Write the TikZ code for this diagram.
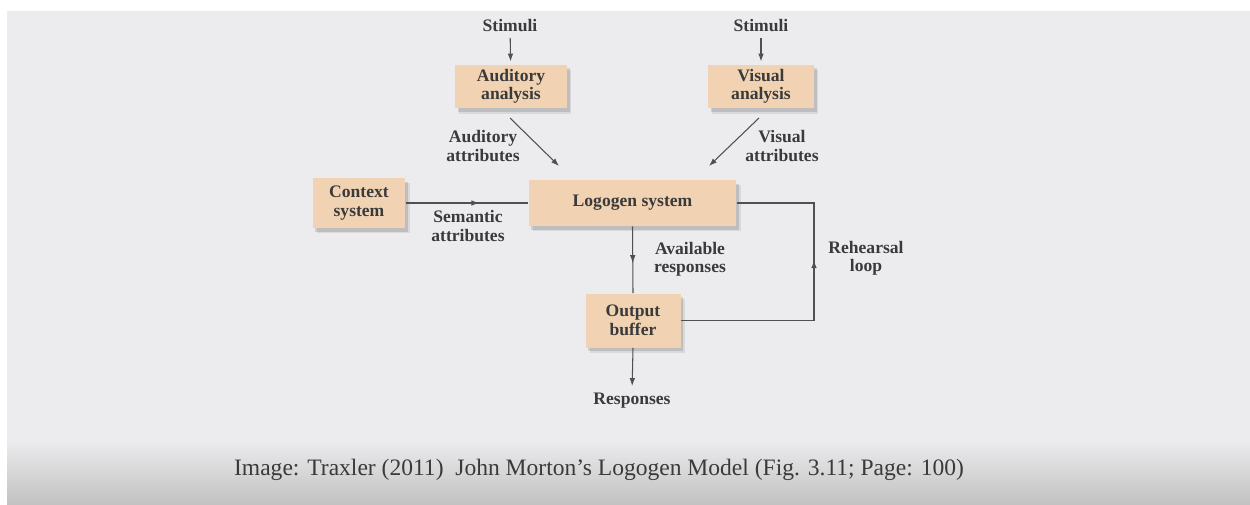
\documentclass[tikz,border=0pt]{standalone}
\usepackage{fontspec}
\setmainfont{Liberation Serif}
\usetikzlibrary{shadows,decorations.markings,arrows.meta}
\definecolor{bg}{HTML}{ECECEE}
\definecolor{boxfill}{HTML}{F1D3B3}
\definecolor{ln}{HTML}{505050}
\definecolor{txt}{HTML}{3A3A3A}
\begin{document}
\begin{tikzpicture}[x=0.02cm,y=-0.02cm,
  box/.style={fill=boxfill, draw=none, align=center, font=\fontsize{10}{10.5}\selectfont\bfseries, text=txt, inner sep=0pt,
    drop shadow={shadow xshift=2.5pt,shadow yshift=-3pt,opacity=0.08,fill=black},
    drop shadow={shadow xshift=1.5pt,shadow yshift=-2pt,opacity=0.12,fill=black}},
  lbl/.style={align=center, font=\fontsize{10}{10.5}\selectfont\bfseries, text=txt, inner sep=0pt},
  conn/.style={color=ln, line width=0.6pt},
  arr/.style={conn, -{Latex[length=4.5pt,width=3.2pt]}},
  midarr/.style={conn, postaction={decorate},
    decoration={markings, mark=at position #1 with {\arrow{Latex[length=4.5pt,width=3.2pt]}}}},
  midarr/.default=0.5
]
\useasboundingbox (0,0) rectangle (1250,504);
\fill[white] (0,0) rectangle (1250,504);
\fill[bg] (7,11) rectangle (1250,504);
\shade[top color=bg, bottom color=black!24] (7,440) rectangle (1250,504);

% text labels
\node[lbl] (s1) at (510,26) {Stimuli};
\node[lbl] (s2) at (761,26) {Stimuli};
\node[lbl] (aatt) at (483,146) {Auditory\\attributes};
\node[lbl] (vatt) at (782,146) {Visual\\attributes};
\node[lbl] (satt) at (468,226) {Semantic\\attributes};
\node[lbl] (avail) at (690,259) {Available\\responses};
\node[lbl] (reh) at (866,258) {Rehearsal\\loop};
\node[lbl] (resp) at (632,401) {Responses};

% boxes
\node[box, minimum width=2.24cm, minimum height=0.88cm] (aud) at (511,86.5) {Auditory\\analysis};
\node[box, minimum width=2.12cm, minimum height=0.88cm] (vis) at (761,86.5) {Visual\\analysis};
\node[box, minimum width=1.86cm, minimum height=1.0cm] (ctx) at (359,203) {Context\\system};
\node[box, minimum width=4.16cm, minimum height=0.92cm] (logo) at (632.5,203) {Logogen system};
\node[box, minimum width=1.9cm, minimum height=1.08cm] (out) at (633,320.5) {Output\\buffer};

% free ends
\coordinate (a1) at (510,118);
\coordinate (a2) at (559,166);
\coordinate (v1) at (759,118);
\coordinate (v2) at (709,166);
\coordinate (rl) at (814,0);

% connectors
\draw[arr, shorten <=3pt, shorten >=1.5pt] (s1) -- (aud);
\draw[arr, shorten <=3pt, shorten >=1.5pt] (s2) -- (vis);
\draw[arr] (a1) -- (a2);
\draw[arr] (v1) -- (v2);
\draw[midarr=0.6] (ctx.east) -- (logo.west);
\draw[midarr=0.55] (logo.south) -- (out.north);
\draw[arr, shorten >=4pt] (out.south) -- (resp.north);
\draw[midarr=0.59] (out.east) -- (out.east -| rl) |- (logo.east);

% caption
\node[font=\fontsize{13.4}{13.4}\selectfont, text=txt, inner sep=0pt] (cap) at (599,470)
  {Image: Traxler (2011)\ \ John Morton's Logogen Model (Fig. 3.11; Page: 100)};
\end{tikzpicture}
\end{document}
